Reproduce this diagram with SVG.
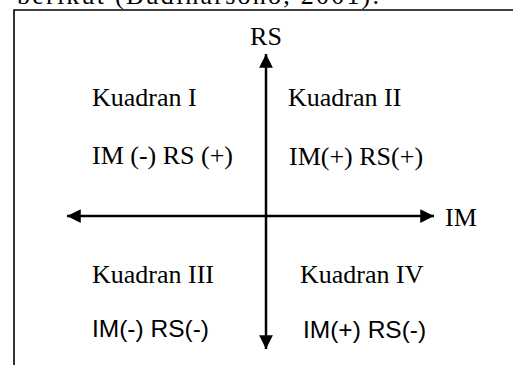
<svg xmlns="http://www.w3.org/2000/svg" width="513" height="365" viewBox="0 0 513 365">
<style>
.serif{font-family:"Liberation Serif","Times New Roman",serif;font-size:26px;fill:#000}
.sans{font-family:"Liberation Sans",Arial,sans-serif;font-size:24.5px;fill:#000}
.axis{stroke:#000;stroke-width:2.5;fill:none}
.frame{stroke:#000;stroke-width:1.6;fill:none}
</style>
<defs>
<marker id="ah" viewBox="0 0 10 10" refX="10" refY="5" markerWidth="6" markerHeight="5.5" markerUnits="strokeWidth" orient="auto">
<path d="M0,0 L10,5 L0,10 z" fill="#000"/>
</marker>
</defs>
<rect width="513" height="365" fill="#fff"/>
<text class="serif" x="17" y="4" textLength="362">berikut (Budiharsono, 2001).</text>
<g id="frame"><path class="frame" d="M14,365 V10 H513"/></g>
<g id="connectors">
<line class="axis" x1="266" y1="216" x2="266" y2="54" marker-end="url(#ah)"/>
<line class="axis" x1="266" y1="216" x2="266" y2="349" marker-end="url(#ah)"/>
<line class="axis" x1="266" y1="216" x2="67" y2="216" marker-end="url(#ah)"/>
<line class="axis" x1="266" y1="216" x2="434" y2="216" marker-end="url(#ah)"/>
</g>
<g id="rs-label"><text class="serif" x="266" y="45" text-anchor="middle">RS</text></g>
<g id="im-label"><text class="serif" x="445" y="226">IM</text></g>
<g id="q1">
<text class="serif" x="92" y="106">Kuadran I</text>
<text class="serif" x="92" y="164">IM (-) RS (+)</text>
</g>
<g id="q2">
<text class="serif" x="288" y="106">Kuadran II</text>
<text class="serif" x="289" y="165">IM(+) RS(+)</text>
</g>
<g id="q3">
<text class="serif" x="92" y="283">Kuadran III</text>
<text class="sans" x="92" y="337">IM(-) RS(-)</text>
</g>
<g id="q4">
<text class="serif" x="300" y="283">Kuadran IV</text>
<text class="sans" x="303" y="338">IM(+) RS(-)</text>
</g>
</svg>
